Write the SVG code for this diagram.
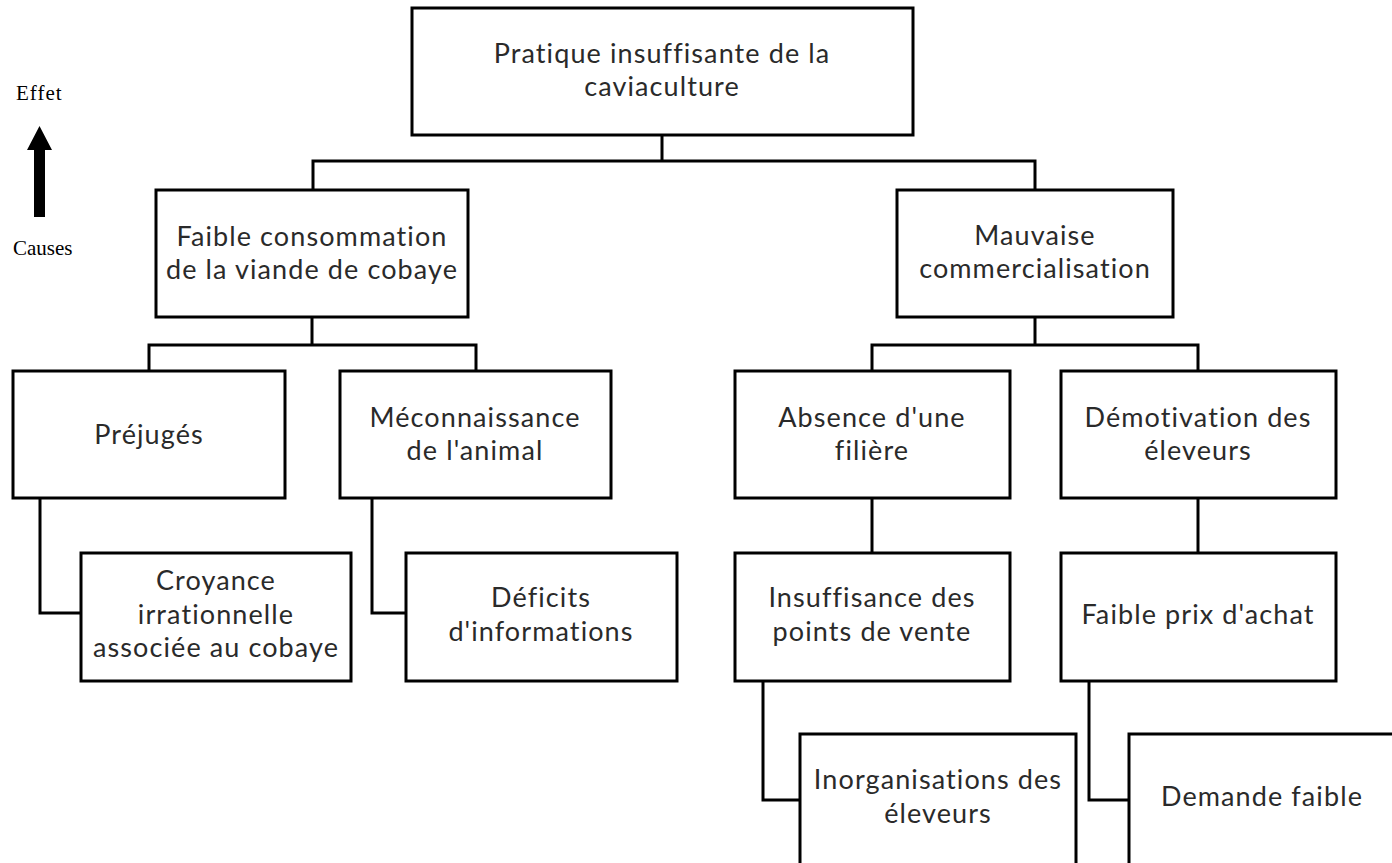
<svg xmlns="http://www.w3.org/2000/svg" width="1392" height="863" viewBox="0 0 1392 863">
<style>
.box{fill:#fff;stroke:#000;stroke-width:3}
.t{font-family:Lato,"Open Sans",sans-serif;font-size:27px;letter-spacing:1.1px;fill:#2a2a2a;text-anchor:middle}
.s{font-family:"Liberation Serif",serif;font-size:21px;fill:#000}
.c{fill:none;stroke:#000;stroke-width:3}
</style>
<rect width="1392" height="863" fill="#fff"/>
<g id="legend">
<text class="s" x="16" y="100" letter-spacing="1">Effet</text>
<polygon points="34,217 45,217 45,150 52,150 39.5,126 27,150 34,150" fill="#000"/>
<text class="s" x="13" y="255">Causes</text>
</g>
<g id="connectors">
<path class="c" d="M662,135 V161 M313,190 V161 H1035 V190"/>
<path class="c" d="M312,317 V345 M149,371 V345 H476 V371"/>
<path class="c" d="M1035,317 V345 M872,371 V345 H1198 V371"/>
<path class="c" d="M40,498 V613 H81"/>
<path class="c" d="M372,498 V613 H406"/>
<path class="c" d="M872,498 V553"/>
<path class="c" d="M1198,498 V553"/>
<path class="c" d="M763,681 V800 H800"/>
<path class="c" d="M1089,681 V800 H1129"/>
</g>
<g id="n_root">
<rect class="box" x="412" y="8" width="501" height="127"/>
<text class="t" x="662" y="63">Pratique insuffisante de la</text>
<text class="t" x="662" y="96">caviaculture</text>
</g>
<g id="n_consommation">
<rect class="box" x="156" y="190" width="312" height="127"/>
<text class="t" x="312" y="246">Faible consommation</text>
<text class="t" x="312" y="279">de la viande de cobaye</text>
</g>
<g id="n_commercialisation">
<rect class="box" x="897" y="190" width="276" height="127"/>
<text class="t" x="1035" y="245">Mauvaise</text>
<text class="t" x="1035" y="278">commercialisation</text>
</g>
<g id="n_prejuges">
<rect class="box" x="13" y="371" width="272" height="127"/>
<text class="t" x="149" y="444">Préjugés</text>
</g>
<g id="n_meconnaissance">
<rect class="box" x="340" y="371" width="271" height="127"/>
<text class="t" x="475" y="427">Méconnaissance</text>
<text class="t" x="475" y="460">de l'animal</text>
</g>
<g id="n_croyance">
<rect class="box" x="81" y="553" width="270" height="128"/>
<text class="t" x="216" y="590">Croyance</text>
<text class="t" x="216" y="624">irrationnelle</text>
<text class="t" x="216" y="657">associée au cobaye</text>
</g>
<g id="n_deficits">
<rect class="box" x="406" y="553" width="271" height="128"/>
<text class="t" x="541" y="607">Déficits</text>
<text class="t" x="541" y="641">d'informations</text>
</g>
<g id="n_absence">
<rect class="box" x="735" y="371" width="275" height="127"/>
<text class="t" x="872" y="427">Absence d'une</text>
<text class="t" x="872" y="460">filière</text>
</g>
<g id="n_demotivation">
<rect class="box" x="1061" y="371" width="275" height="127"/>
<text class="t" x="1198" y="427">Démotivation des</text>
<text class="t" x="1198" y="460">éleveurs</text>
</g>
<g id="n_insuffisance">
<rect class="box" x="735" y="553" width="275" height="128"/>
<text class="t" x="872" y="607">Insuffisance des</text>
<text class="t" x="872" y="641">points de vente</text>
</g>
<g id="n_prix">
<rect class="box" x="1061" y="553" width="275" height="128"/>
<text class="t" x="1198" y="624">Faible prix d'achat</text>
</g>
<g id="n_inorganisations">
<rect class="box" x="800" y="734" width="276" height="145"/>
<text class="t" x="938" y="789">Inorganisations des</text>
<text class="t" x="938" y="823">éleveurs</text>
</g>
<g id="n_demande">
<rect class="box" x="1129" y="734" width="290" height="145"/>
<text class="t" x="1262" y="806">Demande faible</text>
</g>
</svg>
